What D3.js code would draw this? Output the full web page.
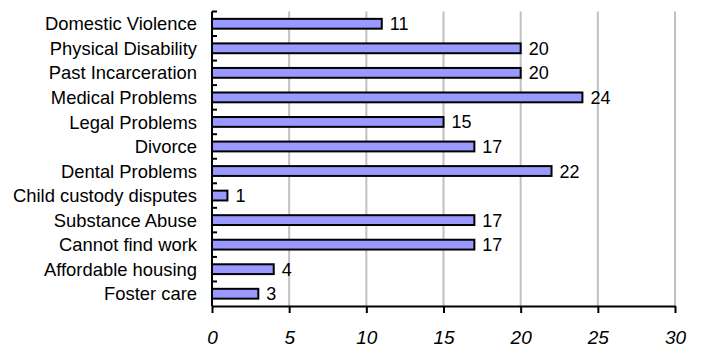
<!DOCTYPE html>
<html><head><meta charset="utf-8">
<script src="https://cdn.jsdelivr.net/npm/d3@7"></script>
<style>
html,body{margin:0;padding:0;background:#fff;}
svg{display:block;}
</style></head>
<body>
<script>
const categories = ["Domestic Violence","Physical Disability","Past Incarceration","Medical Problems","Legal Problems","Divorce","Dental Problems","Child custody disputes","Substance Abuse","Cannot find work","Affordable housing","Foster care"];
const values = [11,20,20,24,15,17,22,1,17,17,4,3];
const xTicks = [0,5,10,15,20,25,30];

const W = 704, H = 347;
const m = {top: 11.5, right: 29, bottom: 41, left: 212};
const FONT = "Liberation Sans, Arial, sans-serif";
const svg = d3.select("body").append("svg").attr("width", W).attr("height", H);

const x = d3.scaleLinear().domain([0,30]).range([m.left, W - m.right]);
const y = d3.scaleBand().domain(categories).range([m.top, H - m.bottom]).paddingInner(0.6).paddingOuter(0.3);
const yEdges = d3.scaleLinear().domain([0, categories.length]).range([m.top, H - m.bottom]);

// gridlines
svg.append("g").selectAll("line").data(xTicks.filter(d => d > 0)).join("line")
  .attr("x1", d => x(d)).attr("x2", d => x(d))
  .attr("y1", m.top).attr("y2", H - m.bottom)
  .attr("stroke", "#c0c0c0").attr("stroke-width", 2);

// bars
svg.append("g").selectAll("rect").data(categories).join("rect")
  .attr("x", x(0)).attr("y", d => y(d))
  .attr("width", (d,i) => x(values[i]) - x(0))
  .attr("height", y.bandwidth())
  .attr("fill", "#9999ff").attr("stroke", "#000").attr("stroke-width", 2);

// value labels
svg.append("g").selectAll("text").data(categories).join("text")
  .attr("x", (d,i) => x(values[i]) + 8)
  .attr("y", d => y(d) + y.bandwidth()/2)
  .attr("dy", "0.36em")
  .attr("font-family", FONT)
  .attr("font-size", 18)
  .text((d,i) => values[i]);

// category labels
svg.append("g").selectAll("text").data(categories).join("text")
  .attr("x", m.left - 15)
  .attr("y", d => y(d) + y.bandwidth()/2)
  .attr("dy", "0.36em")
  .attr("text-anchor", "end")
  .attr("font-family", FONT)
  .attr("font-size", 18.4)
  .text(d => d);

// y axis line and boundary ticks
svg.append("line").attr("x1", x(0)).attr("x2", x(0)).attr("y1", m.top).attr("y2", H - m.bottom)
  .attr("stroke", "#000").attr("stroke-width", 2);
svg.append("g").selectAll("line").data(d3.range(categories.length)).join("line")
  .attr("x1", x(0)).attr("x2", x(0) + 5)
  .attr("y1", d => yEdges(d)).attr("y2", d => yEdges(d))
  .attr("stroke", "#000").attr("stroke-width", 2);

// x axis
const xAxis = svg.append("g").attr("transform", `translate(0,${H - m.bottom})`)
  .call(d3.axisBottom(x).tickValues(xTicks).tickSize(7).tickPadding(18).tickSizeOuter(0));
xAxis.select(".domain").attr("stroke", "#000").attr("stroke-width", 2);
xAxis.selectAll(".tick line").attr("stroke", "#000").attr("stroke-width", 2);
xAxis.selectAll(".tick text").attr("font-family", FONT)
  .attr("font-size", 19).attr("font-style", "italic").attr("fill", "#000");
</script>
</body></html>
